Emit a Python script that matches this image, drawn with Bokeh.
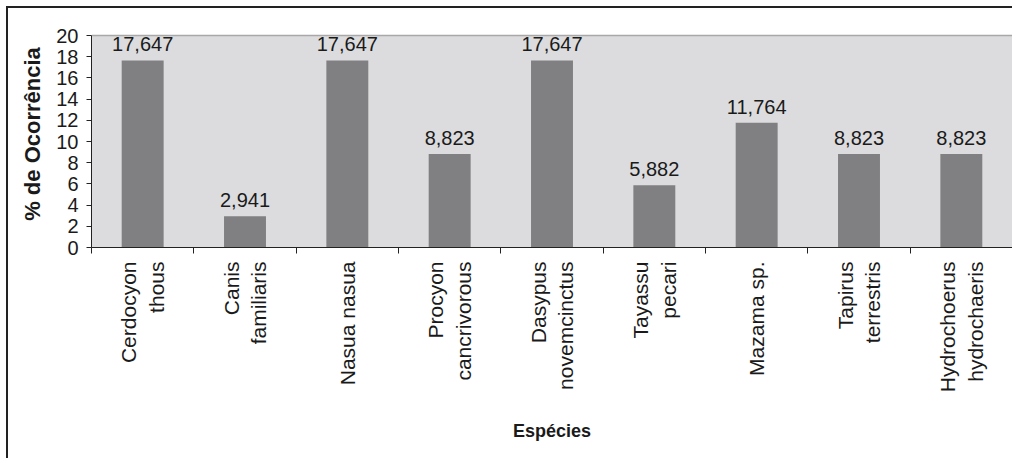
import math
from bokeh.plotting import figure
from bokeh.models import ColumnDataSource, FixedTicker, Span, BoxAnnotation, Range1d
from bokeh.core.properties import value
from bokeh.embed import file_html
from bokeh.resources import INLINE

species = ["Cerdocyon\nthous", "Canis\nfamiliaris", "Nasua nasua", "Procyon\ncancrivorous",
           "Dasypus\nnovemcinctus", "Tayassu\npecari", "Mazama sp.", "Tapirus\nterrestris",
           "Hydrochoerus\nhydrochaeris"]
values = [17.647, 2.941, 17.647, 8.823, 17.647, 5.882, 11.764, 8.823, 8.823]
value_labels = ["17,647", "2,941", "17,647", "8,823", "17,647", "5,882", "11,764", "8,823", "8,823"]
y_ticks = [0, 2, 4, 6, 8, 10, 12, 14, 16, 18, 20]
y_max = 20

n = len(species)
centers = [i + 0.5 for i in range(n)]
src = ColumnDataSource(dict(x=centers, top=values, lab=value_labels))

W, H = 1012, 458
p = figure(width=W, height=H, output_backend="svg", toolbar_location=None,
           x_range=Range1d(0, n), y_range=Range1d(0, y_max * 227 / 212),
           min_border_left=91, min_border_right=0, min_border_top=20,
           min_border_bottom=H - 247)
# outer chart border (top and left edges), drawn as CSS background behind a transparent border fill
p.styles = {
    "background-color": "white",
    "background-image": "linear-gradient(#222222, #222222), linear-gradient(#222222, #222222)",
    "background-size": "2px 460px, 1010px 2px",
    "background-position": "6px 6px, 6px 6px",
    "background-repeat": "no-repeat",
}
p.background_fill_color = "white"
p.border_fill_alpha = 0
p.outline_line_color = None

# gray plot area
p.add_layout(BoxAnnotation(bottom=0, top=y_max, fill_color="#dcdcde", fill_alpha=1,
                           line_color=None, level="underlay"))

p.vbar(x="x", top="top", width=0.41, source=src, fill_color="#808083", line_color=None)

# grid
p.xgrid.visible = False
p.ygrid.ticker = FixedTicker(ticks=y_ticks[1:-1])
p.ygrid.grid_line_color = "#2a2a2a"
p.ygrid.grid_line_width = 1
p.ygrid.level = "underlay"
p.add_layout(Span(location=y_max, dimension="width", line_color="#a8a8a8", line_width=1.5,
                  level="underlay"))

# x axis
xa = p.xaxis[0]
xa.ticker = FixedTicker(ticks=centers, minor_ticks=list(range(n + 1)))
xa.major_label_overrides = {c: s for c, s in zip(centers, species)}
xa.major_tick_line_color = None
xa.minor_tick_out = 6
xa.minor_tick_in = 0
xa.minor_tick_line_color = "#222222"
xa.axis_line_color = "#222222"
xa.major_label_orientation = math.pi / 2
xa.major_label_text_font = "Liberation Sans"
xa.major_label_text_font_size = "21px"
xa.major_label_text_color = "#1a1a1a"
xa.major_label_standoff = 8
xa.axis_label = "Espécies"
xa.axis_label_text_font = "Liberation Sans"
xa.axis_label_text_font_style = "bold"
xa.axis_label_text_font_size = "18px"
xa.axis_label_text_color = "#1a1a1a"
xa.axis_label_standoff = 26

# y axis
ya = p.yaxis[0]
ya.ticker = FixedTicker(ticks=y_ticks)
ya.bounds = (0, y_max)
ya.minor_tick_line_color = None
ya.major_tick_out = 5
ya.major_tick_in = 0
ya.major_tick_line_color = "#222222"
ya.axis_line_color = "#222222"
ya.major_label_text_font = "Liberation Sans"
ya.major_label_text_font_size = "20px"
ya.major_label_text_color = "#1a1a1a"
ya.major_label_standoff = 8
ya.axis_label = "% de Ocorrência"
ya.axis_label_text_font = "Liberation Sans"
ya.axis_label_text_font_style = "bold"
ya.axis_label_text_font_size = "22px"
ya.axis_label_text_color = "#1a1a1a"
ya.axis_label_standoff = 8

# value labels
p.text(x="x", y="top", text="lab", source=src, text_align="center",
       text_baseline="alphabetic", y_offset=-16,
       text_font=value("Liberation Sans"), text_font_size="20px", text_color="#1a1a1a")

open("out.html", "w").write(file_html(p, INLINE))
